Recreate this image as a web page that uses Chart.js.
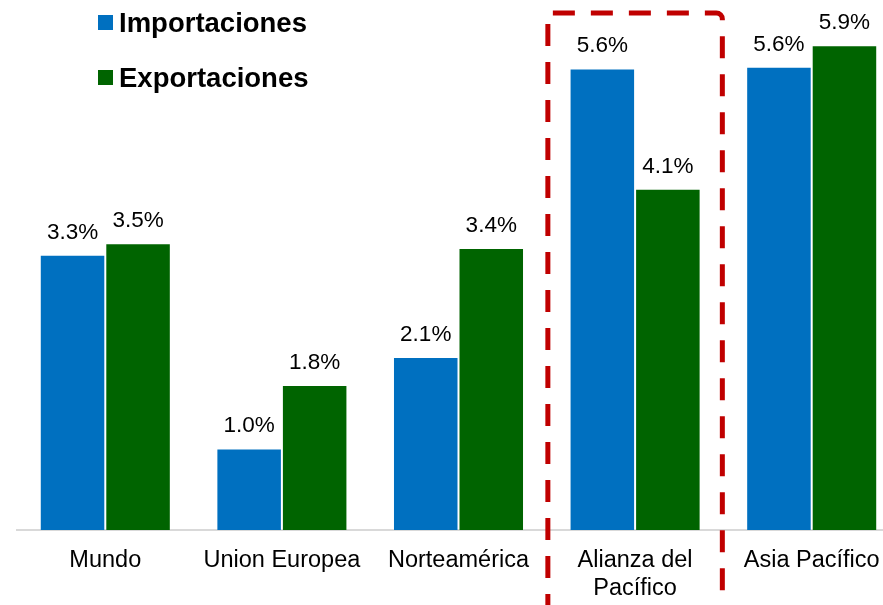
<!DOCTYPE html>
<html>
<head>
<meta charset="utf-8">
<script src="https://cdn.jsdelivr.net/npm/chart.js@4/dist/chart.umd.min.js"></script>
<style>
  html, body { margin: 0; padding: 0; background: #fff; overflow: hidden; }
  #wrap { position: relative; width: 900px; height: 605px; }
</style>
</head>
<body>
<div id="wrap"><canvas id="tradeChart"></canvas></div>
<script>
const categories = ["Mundo", "Union Europea", "Norteamérica", ["Alianza del", "Pacífico"], "Asia Pacífico"];
const seriesNames = ["Importaciones", "Exportaciones"];
const importaciones = [3.34, 0.99, 2.1, 5.6, 5.62];
const exportaciones = [3.48, 1.76, 3.42, 4.14, 5.88];
const seriesColors = ["#0070C0", "#006400"];
const highlightIndex = 3;
const yMax = 6.43;

const FONT = "Liberation Sans, Arial, Helvetica, sans-serif";

// value labels above each bar
const barLabels = {
  id: "barLabels",
  afterDatasetsDraw(chart) {
    const ctx = chart.ctx;
    ctx.save();
    ctx.font = `22.5px ${FONT}`;
    ctx.fillStyle = "#000";
    ctx.textAlign = "center";
    ctx.textBaseline = "alphabetic";
    chart.data.datasets.forEach((ds, i) => {
      chart.getDatasetMeta(i).data.forEach((bar, j) => {
        ctx.fillText(`${ds.data[j].toFixed(1)}%`, bar.x, bar.y - 16);
      });
    });
    ctx.restore();
  },
};

// stacked legend top-left + dashed box round the highlighted group
const overlay = {
  id: "overlay",
  afterDraw(chart) {
    const ctx = chart.ctx;
    const x = chart.scales.x;
    const area = chart.chartArea;

    ctx.save();
    ctx.font = `bold 27.5px ${FONT}`;
    ctx.textBaseline = "alphabetic";
    chart.data.datasets.forEach((ds, i) => {
      const base = 31.5 + i * 55;
      ctx.fillStyle = ds.backgroundColor;
      ctx.fillRect(98, base - 16.5, 15, 15);
      ctx.fillStyle = "#000";
      ctx.fillText(ds.label, 119, base);
    });
    ctx.restore();

    const cx = x.getPixelForValue(highlightIndex);
    const half = (x.getPixelForValue(1) - x.getPixelForValue(0)) * 0.494;
    const left = cx - half;
    const right = cx + half;
    const top = area.top + 13;
    const bottom = 616;
    const r = 6;

    ctx.save();
    ctx.strokeStyle = "#C00000";
    ctx.lineWidth = 5;
    ctx.setLineDash([22, 16]);
    ctx.beginPath();
    ctx.moveTo(left, bottom);
    ctx.lineTo(left, top);
    ctx.lineTo(right - r, top);
    ctx.arcTo(right, top, right, top + r, r);
    ctx.lineTo(right, bottom);
    ctx.stroke();
    ctx.restore();
  },
};

new Chart(document.getElementById("tradeChart"), {
  type: "bar",
  data: {
    labels: categories,
    datasets: [
      {
        label: seriesNames[0],
        data: importaciones,
        backgroundColor: seriesColors[0],
        borderColor: "rgba(255, 255, 255, 0.15)",
        borderWidth: 1,
        categoryPercentage: 0.742,
        barPercentage: 1,
      },
      {
        label: seriesNames[1],
        data: exportaciones,
        backgroundColor: seriesColors[1],
        borderColor: "rgba(255, 255, 255, 0.15)",
        borderWidth: 1,
        categoryPercentage: 0.742,
        barPercentage: 1,
      },
    ],
  },
  options: {
    responsive: true,
    maintainAspectRatio: false,
    animation: false,
    layout: { padding: { left: 17, right: 0, top: 0, bottom: 0 } },
    plugins: {
      legend: { display: false },
      tooltip: { enabled: false },
    },
    scales: {
      x: {
        grid: { display: false, drawTicks: false },
        border: { color: "#d9d9d9", width: 2 },
        ticks: {
          color: "#000",
          font: { family: FONT, size: 23.5 },
          padding: 16,
          maxRotation: 0,
          autoSkip: false,
        },
        afterFit: (scale) => {
          scale.height = 75;
        },
      },
      y: {
        display: false,
        min: 0,
        max: yMax,
      },
    },
  },
  plugins: [barLabels, overlay],
});
</script>
</body>
</html>
